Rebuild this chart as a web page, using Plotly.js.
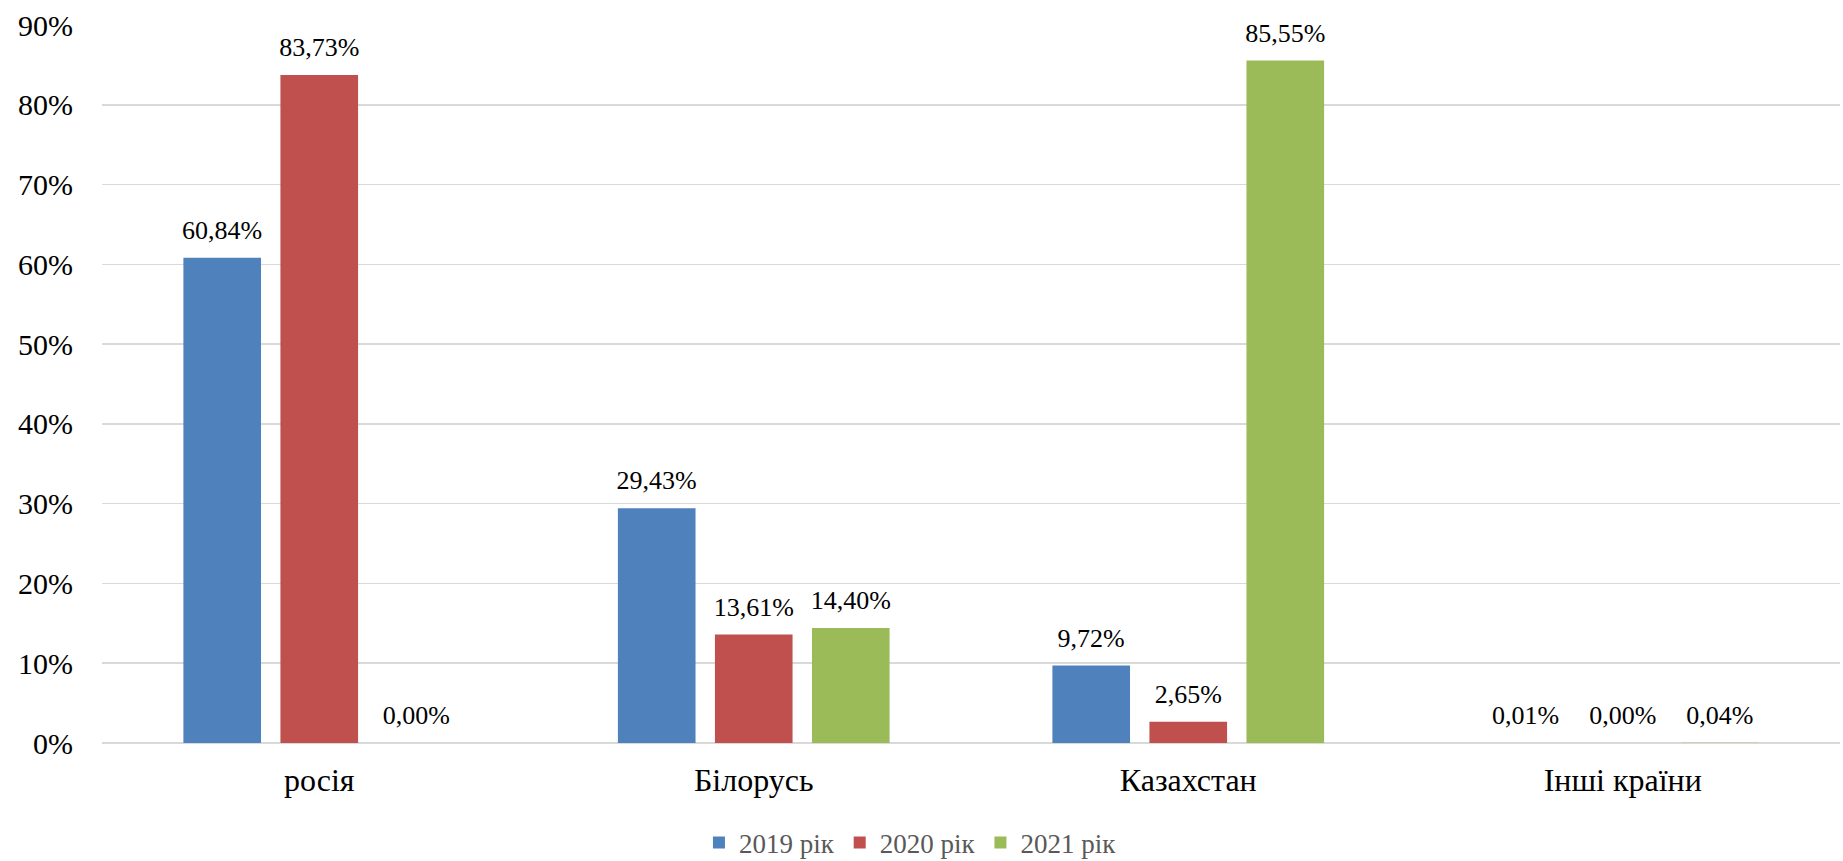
<!DOCTYPE html>
<html>
<head>
<meta charset="utf-8">
<script src="https://cdn.plot.ly/plotly-3.0.1.min.js"></script>
<style>html,body{margin:0;padding:0;background:#fff;}#chart{width:1843px;height:861px;}</style>
</head>
<body>
<div id="chart"></div>
<script>
const categories = ["росія", "Білорусь", "Казахстан", "Інші країни"];
const seriesNames = ["2019 рік", "2020 рік", "2021 рік"];
const values2019 = [60.84, 29.43, 9.72, 0.01];
const values2020 = [83.73, 13.61, 2.65, 0.00];
const values2021 = [0.00, 14.40, 85.55, 0.04];
const yTickVals = [0, 10, 20, 30, 40, 50, 60, 70, 80, 90];

const colors = ["#4f81bd", "#c0504d", "#9bbb59"];
const allValues = [values2019, values2020, values2021];
const FONT = "Liberation Serif";

const barTraces = allValues.map((vals, i) => ({
  type: "bar",
  name: seriesNames[i],
  x: categories,
  y: vals,
  offsetgroup: String(i),
  marker: { color: colors[i] },
  hoverinfo: "x+y+name"
}));

const labelTraces = allValues.map((vals, i) => ({
  type: "scatter",
  mode: "markers+text",
  showlegend: false,
  x: categories,
  y: vals,
  offsetgroup: String(i),
  marker: { size: 18, opacity: 0, color: colors[i] },
  text: vals.map(v => v.toFixed(2).replace(".", ",") + "%"),
  textposition: "top center",
  cliponaxis: false,
  textfont: { family: FONT, size: 26, color: "#000" },
  hoverinfo: "skip"
}));

const layout = {
  width: 1843,
  height: 861,
  margin: { l: 102, r: 3, t: 25, b: 118 },
  paper_bgcolor: "#fff",
  plot_bgcolor: "#fff",
  barmode: "group",
  scattermode: "group",
  bargap: 0.33,
  bargroupgap: 0.2,
  font: { family: FONT, color: "#000" },
  xaxis: {
    type: "category",
    showgrid: false,
    showline: false,
    ticks: "",
    ticklabelstandoff: 15,
    tickfont: { family: FONT, size: 32, color: "#000" },
    automargin: false
  },
  yaxis: {
    range: [0, 90],
    tickvals: yTickVals,
    ticktext: yTickVals.map(v => v + "%"),
    showgrid: true,
    gridcolor: "#d9d9d9",
    gridwidth: 1.5,
    zeroline: true,
    zerolinecolor: "#d9d9d9",
    zerolinewidth: 1.5,
    showline: false,
    ticks: "",
    ticklen: 0,
    ticklabelstandoff: 28,
    tickfont: { family: FONT, size: 30, color: "#000" },
    automargin: false
  },
  showlegend: true,
  legend: {
    orientation: "h",
    xref: "container",
    x: 0.494,
    xanchor: "center",
    yref: "container",
    y: 0.021,
    yanchor: "middle",
    font: { family: FONT, size: 27, color: "#595959" },
    itemsizing: "constant",
    tracegroupgap: 0
  }
};

Plotly.newPlot("chart", barTraces.concat(labelTraces), layout, { displayModeBar: false, staticPlot: true });
</script>
</body>
</html>
